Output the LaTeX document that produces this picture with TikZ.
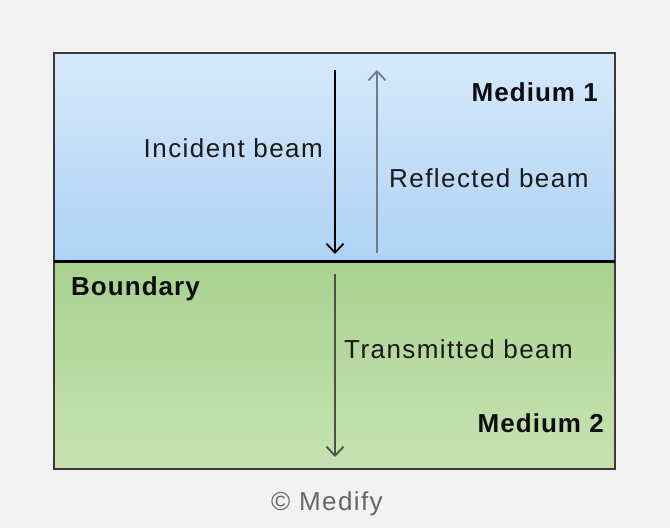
\documentclass[tikz,border=0pt]{standalone}
\usepackage{fontspec}
\setmainfont{Liberation Sans}
\newfontfamily\beamfont[LetterSpace=5.5]{Liberation Sans}
\newfontfamily\mediumfont[LetterSpace=4]{Liberation Sans}
\usetikzlibrary{arrows.meta}

\definecolor{pagegray}{HTML}{F2F2F2}
\definecolor{blueTop}{HTML}{D6E9FB}
\definecolor{blueBot}{HTML}{AFD2F4}
\definecolor{greenTop}{HTML}{A8D290}
\definecolor{greenBot}{HTML}{C7E2B3}
\definecolor{reflgray}{HTML}{6F7C88}
\definecolor{transgray}{HTML}{4B5143}
\definecolor{framegray}{HTML}{3A3A3A}

\tikzset{
    beamlabel/.style={font=\beamfont\fontsize{26}{30}\selectfont, text=black!90, inner sep=0pt},
    mediumlabel/.style={font=\mediumfont\bfseries\fontsize{26}{30}\selectfont, text=black!95, inner sep=0pt},
    beam/.style={line width=1.8pt, -{Straight Barb[length=9pt, width=17pt, line width=1.8pt]}}
}

\begin{document}
\begin{tikzpicture}[x=1pt, y=-1pt]
    \useasboundingbox[fill=pagegray] (0,0) rectangle (670,528);
    % the two media
    \shade[top color=blueTop, bottom color=blueBot] (54,53) rectangle (615,261);
    \shade[top color=greenTop, bottom color=greenBot] (54,261) rectangle (615,469);
    \draw[framegray, line width=1.5pt] (54,53) rectangle (615,469);
    % boundary
    \draw[black, line width=3pt] (54,261) -- (615,261);

    \coordinate (inc-start) at (335,70);
    \coordinate (inc-end) at (335,254);
    \coordinate (refl-start) at (377,253);
    \coordinate (refl-end) at (377,70);
    \coordinate (trans-start) at (335,274);
    \coordinate (trans-end) at (335,457);

    \draw[beam, black] (inc-start) -- (inc-end);
    \draw[beam, reflgray] (refl-start) -- (refl-end);
    \draw[beam, transgray] (trans-start) -- (trans-end);

    % labels
    \node[beamlabel, anchor=base east] (incident) at (323,157) {Incident beam};
    \node[beamlabel, anchor=base west] (reflected) at (389,187) {Reflected beam};
    \node[beamlabel, anchor=base west] (transmitted) at (344,358) {Transmitted beam};
    \node[mediumlabel, anchor=base east] (medium1) at (598,101) {Medium 1};
    \node[mediumlabel, anchor=base west] (boundary) at (71,295) {Boundary};
    \node[mediumlabel, anchor=base east] (medium2) at (604,432) {Medium 2};
    \node[beamlabel, anchor=base, text=black!60] (copyright) at (327,510) {© Medify};
\end{tikzpicture}
\end{document}
